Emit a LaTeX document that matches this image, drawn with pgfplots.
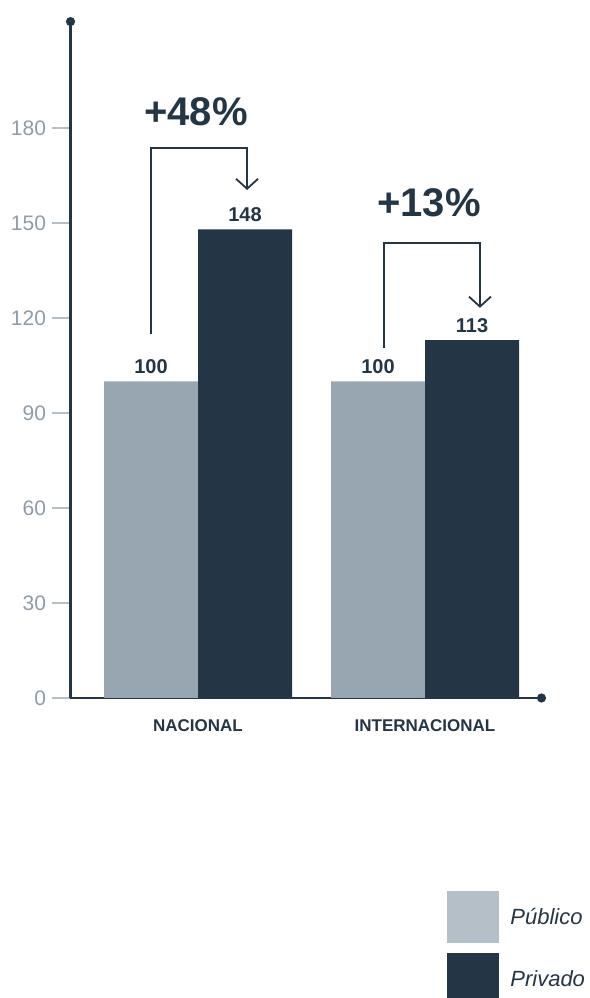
\documentclass[border=0pt]{standalone}
\usepackage{fontspec}
\setmainfont{Liberation Sans}
\usepackage{pgfplots}
\pgfplotsset{compat=1.18}
\usetikzlibrary{arrows.meta}
\definecolor{dark}{HTML}{243646}
\definecolor{pub}{HTML}{98A6B1}
\definecolor{legpub}{HTML}{B4BFC7}
\definecolor{tickgray}{HTML}{B4BFC7}
\definecolor{labgray}{HTML}{8E9CA8}
\begin{document}
\begin{tikzpicture}[x=1pt,y=1pt]
\useasboundingbox (0,0) rectangle (589,998);
\begin{axis}[
  at={(70.5pt,300pt)}, anchor=south west,
  scale only axis, width=475.5pt, height=680.9pt,
  xmin=-0.5617, xmax=1.533, ymin=0, ymax=215,
  axis x line=bottom, axis y line=left,
  axis line style={draw=dark, line width=2.5pt, -{Circle[length=9pt]}},
  ytick={0,30,...,180},
  xtick={0,1}, xticklabels={NACIONAL,INTERNACIONAL},
  tick align=outside, major tick length=18pt,
  ytick style={draw=tickgray, line width=2pt},
  xtick style={draw=none},
  yticklabel style={font=\fontsize{21}{25}\selectfont, text=labgray, xshift=-3pt},
  xticklabel style={font=\bfseries\fontsize{17}{20}\selectfont, text=dark},
  /pgf/number format/assume math mode=true,
  ybar=0pt, bar width=94pt,
  nodes near coords,
  nodes near coords style={font=\bfseries\fontsize{20}{24}\selectfont, text=dark, yshift=4pt},
  clip=false,
  legend style={at={(0.7918,-0.2835)}, anchor=north west, draw=none, fill=none,
    inner sep=0pt, outer sep=0pt, row sep=11pt, cells={anchor=west},
    font=\itshape\fontsize{22}{26}\selectfont, text=dark},
]
\addplot[fill=pub, draw=none, bar shift=-47pt, forget plot] coordinates {(0,100) (1,100)};
\addplot[fill=dark, draw=none, bar shift=47pt, forget plot] coordinates {(0,148) (1,113)};
\addlegendimage{legend image code/.code={\fill[legpub] (0pt,-25.5pt) rectangle (51pt,25.5pt); \path (61pt,0pt);}}
\addlegendentry{Público}
\addlegendimage{legend image code/.code={\fill[dark] (0pt,-25.5pt) rectangle (51pt,25.5pt); \path (61pt,0pt);}}
\addlegendentry{Privado}
\draw[dark, line width=1.8pt, -{Straight Barb[length=10pt, width=22pt]}]
  (axis cs:-0.207,115) |- (axis cs:0.216,173.7) -- (axis cs:0.216,160.4);
\draw[dark, line width=1.8pt, -{Straight Barb[length=10pt, width=22pt]}]
  (axis cs:0.819,110.5) |- (axis cs:1.242,143.7) -- (axis cs:1.242,123.2);
\node[font=\bfseries\fontsize{40}{48}\selectfont, text=dark] at (axis cs:-0.009,185) {+48\%};
\node[font=\bfseries\fontsize{40}{48}\selectfont, text=dark] at (axis cs:1.018,156.3) {+13\%};
\end{axis}
\end{tikzpicture}
\end{document}
